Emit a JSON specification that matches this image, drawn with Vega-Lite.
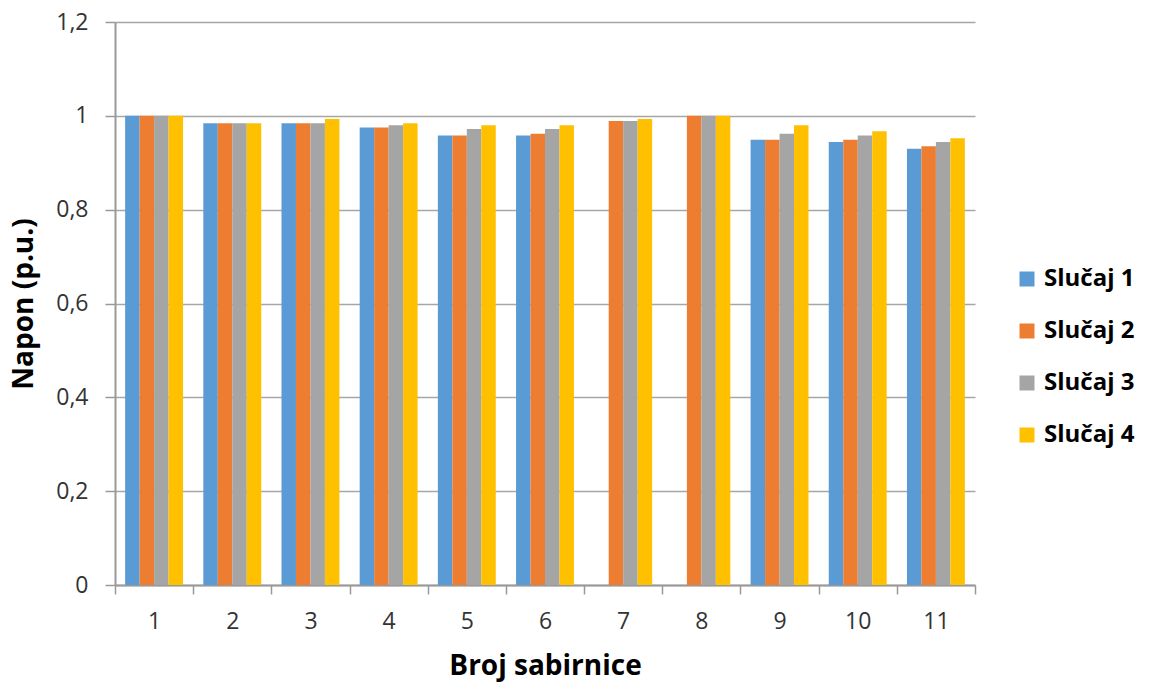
{
  "$schema": "https://vega.github.io/schema/vega-lite/v6.json",
  "autosize": {"type": "none"},
  "width": 860,
  "height": 563,
  "padding": {"left": 115, "top": 22, "right": 176, "bottom": 97},
  "background": "white",
  "data": {"values": [
    {"bus": "1", "case": "Slučaj 1", "v": 1.0},
    {"bus": "1", "case": "Slučaj 2", "v": 1.0},
    {"bus": "1", "case": "Slučaj 3", "v": 1.0},
    {"bus": "1", "case": "Slučaj 4", "v": 1.0},
    {"bus": "2", "case": "Slučaj 1", "v": 0.984},
    {"bus": "2", "case": "Slučaj 2", "v": 0.984},
    {"bus": "2", "case": "Slučaj 3", "v": 0.984},
    {"bus": "2", "case": "Slučaj 4", "v": 0.984},
    {"bus": "3", "case": "Slučaj 1", "v": 0.984},
    {"bus": "3", "case": "Slučaj 2", "v": 0.984},
    {"bus": "3", "case": "Slučaj 3", "v": 0.984},
    {"bus": "3", "case": "Slučaj 4", "v": 0.993},
    {"bus": "4", "case": "Slučaj 1", "v": 0.975},
    {"bus": "4", "case": "Slučaj 2", "v": 0.975},
    {"bus": "4", "case": "Slučaj 3", "v": 0.980},
    {"bus": "4", "case": "Slučaj 4", "v": 0.984},
    {"bus": "5", "case": "Slučaj 1", "v": 0.958},
    {"bus": "5", "case": "Slučaj 2", "v": 0.958},
    {"bus": "5", "case": "Slučaj 3", "v": 0.972},
    {"bus": "5", "case": "Slučaj 4", "v": 0.980},
    {"bus": "6", "case": "Slučaj 1", "v": 0.958},
    {"bus": "6", "case": "Slučaj 2", "v": 0.962},
    {"bus": "6", "case": "Slučaj 3", "v": 0.972},
    {"bus": "6", "case": "Slučaj 4", "v": 0.980},
    {"bus": "7", "case": "Slučaj 1", "v": null},
    {"bus": "7", "case": "Slučaj 2", "v": 0.989},
    {"bus": "7", "case": "Slučaj 3", "v": 0.989},
    {"bus": "7", "case": "Slučaj 4", "v": 0.993},
    {"bus": "8", "case": "Slučaj 1", "v": null},
    {"bus": "8", "case": "Slučaj 2", "v": 1.0},
    {"bus": "8", "case": "Slučaj 3", "v": 1.0},
    {"bus": "8", "case": "Slučaj 4", "v": 1.0},
    {"bus": "9", "case": "Slučaj 1", "v": 0.949},
    {"bus": "9", "case": "Slučaj 2", "v": 0.949},
    {"bus": "9", "case": "Slučaj 3", "v": 0.962},
    {"bus": "9", "case": "Slučaj 4", "v": 0.980},
    {"bus": "10", "case": "Slučaj 1", "v": 0.944},
    {"bus": "10", "case": "Slučaj 2", "v": 0.949},
    {"bus": "10", "case": "Slučaj 3", "v": 0.958},
    {"bus": "10", "case": "Slučaj 4", "v": 0.967},
    {"bus": "11", "case": "Slučaj 1", "v": 0.930},
    {"bus": "11", "case": "Slučaj 2", "v": 0.935},
    {"bus": "11", "case": "Slučaj 3", "v": 0.944},
    {"bus": "11", "case": "Slučaj 4", "v": 0.952}
  ]},
  "mark": {"type": "bar"},
  "encoding": {
    "x": {
      "field": "bus", "type": "nominal", "sort": null,
      "scale": {"paddingInner": 0, "paddingOuter": 0},
      "axis": {
        "title": "Broj sabirnice",
        "labelAngle": 0,
        "tickBand": "extent",
        "tickSize": 9,
        "tickColor": "#999999",
        "tickWidth": 1.5,
        "domainColor": "#999999",
        "domainWidth": 2,
        "labelPadding": 16,
        "labelFontSize": 23,
        "labelFont": "Open Sans",
        "labelColor": "#333333",
        "titleFont": "Open Sans",
        "titleFontSize": 28,
        "titleFontWeight": "bold",
        "titleColor": "#000000",
        "titlePadding": 19
      }
    },
    "xOffset": {
      "field": "case", "type": "nominal",
      "scale": {"domain": ["Slučaj 1", "Slučaj 2", "Slučaj 3", "Slučaj 4"], "paddingInner": 0, "paddingOuter": 0.7}
    },
    "y": {
      "field": "v", "type": "quantitative",
      "scale": {"domain": [0, 1.2], "nice": false},
      "axis": {
        "title": "Napon (p.u.)",
        "values": [0, 0.2, 0.4, 0.6, 0.8, 1, 1.2],
        "labelExpr": "replace(format(datum.value, '~r'), '.', ',')",
        "grid": true,
        "gridColor": "#a6a6a6",
        "gridWidth": 1.5,
        "tickSize": 10,
        "tickColor": "#999999",
        "tickWidth": 1.5,
        "domainColor": "#999999",
        "domainWidth": 2,
        "labelPadding": 17,
        "labelFontSize": 23,
        "labelFont": "Open Sans",
        "labelColor": "#333333",
        "titleFont": "Open Sans",
        "titleFontSize": 28,
        "titleFontWeight": "bold",
        "titleColor": "#000000",
        "titlePadding": 17
      }
    },
    "color": {
      "field": "case", "type": "nominal",
      "scale": {"domain": ["Slučaj 1", "Slučaj 2", "Slučaj 3", "Slučaj 4"], "range": ["#5B9BD5", "#ED7D31", "#A5A5A5", "#FFC000"]},
      "legend": {
        "title": null,
        "orient": "none",
        "legendX": 900,
        "legendY": 245,
        "symbolType": "square",
        "symbolSize": 225,
        "symbolStrokeWidth": 0,
        "labelFont": "Open Sans",
        "labelFontSize": 24,
        "labelFontWeight": "bold",
        "labelColor": "#000000",
        "labelOffset": 5,
        "rowPadding": 28
      }
    }
  },
  "config": {"view": {"stroke": null}}
}
